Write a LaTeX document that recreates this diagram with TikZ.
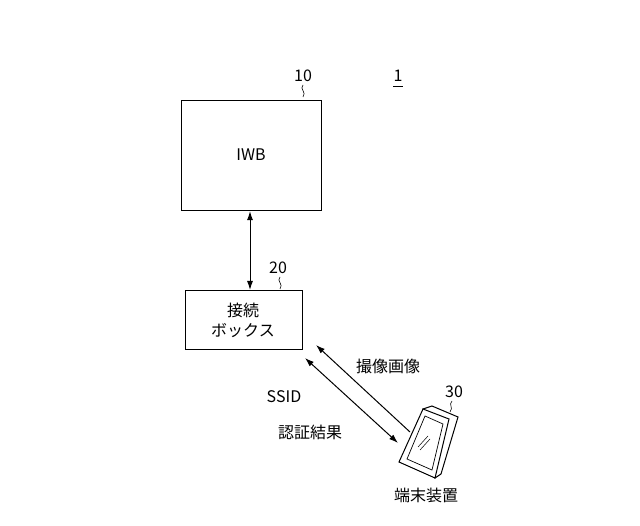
\documentclass[tikz,border=0pt]{standalone}
\usepackage{fontspec}
\setmainfont{Noto Sans CJK JP}
\usetikzlibrary{arrows.meta}
\begin{document}
\begin{tikzpicture}[x=1pt,y=-1pt,>={Latex[length=9pt,width=6pt]},
  box/.style={draw,line width=1.1pt,inner sep=0pt},
  lbl/.style={font=\fontsize{16}{19}\selectfont,inner sep=0pt},
  sq/.style={line width=0.6pt}]
\useasboundingbox (0,0) rectangle (640,526);
\node[box,minimum width=140pt,minimum height=110pt,anchor=north west] (iwb) at (181,100) {};
\node[lbl] at (251,155) {IWB};
\node[box,minimum width=117pt,minimum height=59pt,anchor=north west] (cb) at (185,290) {};
\node[lbl,align=center,font=\fontsize{16}{20}\selectfont] at (243,320) {接続\\ボックス};
\draw[<->,line width=1pt] (iwb.south -| 250,0) -- (cb.north -| 250,0);
\node[lbl] (l10) at (303,76) {10};
\draw[sq] (303,85) .. controls (299,89) and (307,92) .. (303,97);
\node[lbl] (l1) at (398,76) {1};
\draw[line width=0.8pt] (393,86) -- (403,86);
\node[lbl] (l20) at (278,268) {20};
\draw[sq] (280,277) .. controls (276,281) and (284,284) .. (280,289);
\coordinate (a1) at (316,345); \coordinate (b1) at (410,432);
\coordinate (a2) at (305,358); \coordinate (b2) at (398,443);
\draw[->,line width=1pt] (b1) -- (a1);
\draw[<->,line width=1pt] (a2) -- (b2);
\node[lbl] at (388,366) {撮像画像};
\node[lbl] at (284,397) {SSID};
\node[lbl] at (310,432) {認証結果};
\node[lbl] (l30) at (454,392) {30};
\draw[sq] (452,401) .. controls (448,405) and (454,407) .. (450,412);
% device
\coordinate (d1) at (423,409); \coordinate (d2) at (449,419);
\coordinate (d3) at (435,478); \coordinate (d4) at (399,462);
\draw[line width=1pt,fill=white] (d1) -- (423+9,409-3) -- (449+9,419-2) -- (435+6,478-4) -- (d3) -- cycle;
\draw[line width=1pt,fill=white] (d1) -- (d2) -- (d3) -- (d4) -- cycle;
\draw[line width=0.7pt] (425,416) -- (443,424) -- (432,470) -- (407,459) -- cycle;
\draw[line width=0.5pt] (418,447) -- (428,436) (420,450) -- (430,439);
\node[lbl] at (426,495) {端末装置};
\end{tikzpicture}
\end{document}
